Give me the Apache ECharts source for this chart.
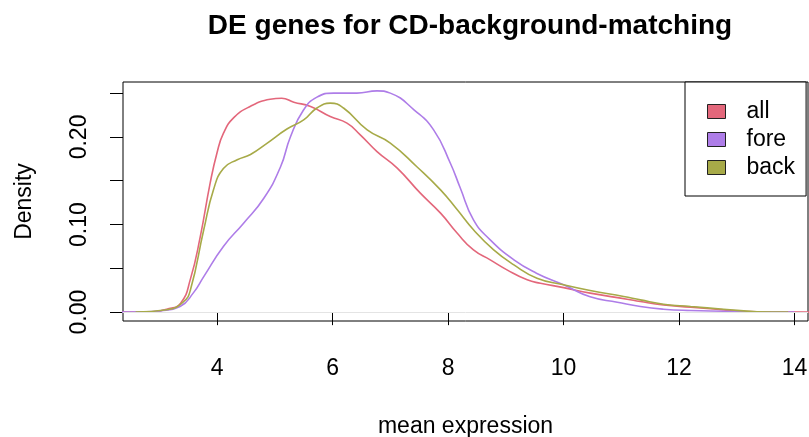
<!DOCTYPE html>
<html>
<head>
<meta charset="utf-8">
<script src="https://cdn.jsdelivr.net/npm/echarts@6/dist/echarts.min.js"></script>
<style>
  html, body { margin: 0; padding: 0; background: #fff; }
  #main { width: 809px; height: 437px; }
</style>
</head>
<body>
<div id="main"></div>
<script>
// density curves, as [mean expression, density]
const allCurve = [
  [2.3, 0], [2.8, 0.0003], [3.13, 0.0034], [3.37, 0.0103], [3.54, 0.038], [3.71, 0.0863],
  [3.88, 0.147], [4.0, 0.182], [4.11, 0.204], [4.29, 0.222], [4.58, 0.235], [4.92, 0.243],
  [5.12, 0.2442], [5.33, 0.2397], [5.62, 0.2347], [5.96, 0.2233], [6.25, 0.2157], [6.48, 0.2024],
  [6.77, 0.1833], [7.12, 0.1644], [7.52, 0.1358], [7.87, 0.113], [8.16, 0.09], [8.44, 0.071],
  [8.73, 0.0597], [9.02, 0.0483], [9.37, 0.0369], [9.6, 0.033], [10.0, 0.028], [10.46, 0.0217],
  [11.1, 0.0148], [11.33, 0.0121], [11.73, 0.0083], [12.2, 0.0057], [12.77, 0.0026],
  [13.35, 0.0004], [14.4, 0]
];
const foreCurve = [
  [2.3, 0], [2.7, 0.0003], [3.02, 0.0015], [3.36, 0.0064], [3.59, 0.022], [3.77, 0.0406],
  [4.11, 0.075], [4.46, 0.1016], [4.81, 0.13], [5.1, 0.166], [5.27, 0.2], [5.5, 0.231],
  [5.73, 0.2454], [6.02, 0.25], [6.42, 0.25], [6.77, 0.2526], [7.0, 0.25], [7.41, 0.231],
  [7.75, 0.208], [8.04, 0.17], [8.21, 0.142], [8.44, 0.1054], [8.73, 0.0825], [9.14, 0.0597],
  [9.53, 0.0445], [10.0, 0.0312], [10.46, 0.0175], [10.93, 0.0114], [11.33, 0.0064],
  [11.73, 0.0034], [12.2, 0.0019], [12.77, 0.0011], [13.35, 0.0004], [14.0, 0]
];
const backCurve = [
  [2.59, 0], [3.13, 0.0027], [3.42, 0.012], [3.54, 0.0255], [3.77, 0.094], [3.94, 0.14],
  [4.11, 0.164], [4.35, 0.174], [4.58, 0.18], [4.87, 0.193], [5.21, 0.209], [5.5, 0.2195],
  [5.73, 0.233], [5.96, 0.2386], [6.19, 0.233], [6.6, 0.208], [7.0, 0.193], [7.46, 0.166],
  [7.87, 0.1396], [8.16, 0.1168], [8.44, 0.094], [8.79, 0.0711], [9.14, 0.054], [9.54, 0.0388],
  [10.0, 0.0312], [10.46, 0.0247], [11.04, 0.0178], [11.33, 0.014], [11.73, 0.0091],
  [12.2, 0.0064], [12.77, 0.0034], [13.35, 0.0005], [13.89, 0]
];
const seriesNames = ['all', 'fore', 'back'];
const seriesColors = ['#E3677B', '#AE7DE8', '#A7AA48'];
const xTicks = [4, 6, 8, 10, 12, 14];
const yTicks = [0, 0.05, 0.1, 0.15, 0.2, 0.25];
const yLabels = [0, 0.1, 0.2];

const chart = echarts.init(document.getElementById('main'));
const font = 'Liberation Sans, Arial, Helvetica, sans-serif';

const curves = [allCurve, foreCurve, backCurve];

const option = {
  animation: false,
  title: {
    text: 'DE genes for CD-background-matching',
    left: 465, top: 7, textAlign: 'center',
    textStyle: { fontFamily: font, fontSize: 28, fontWeight: 'bold', color: '#000' }
  },
  grid: {
    left: 123, top: 82, width: 685, height: 239,
    outerBoundsMode: 'none', containLabel: false,
    show: true, borderColor: '#000', borderWidth: 1, backgroundColor: 'transparent'
  },
  legend: {
    orient: 'vertical', left: 685, top: 82,
    data: seriesNames,
    icon: 'rect', itemWidth: 18, itemHeight: 14, itemGap: 5,
    padding: [18, 11, 17, 22],
    borderColor: '#000', borderWidth: 1, borderRadius: 0,
    backgroundColor: '#fff',
    itemStyle: { borderColor: '#222', borderWidth: 1 },
    textStyle: { fontFamily: font, fontSize: 23, lineHeight: 23, color: '#000', padding: [0, 0, 0, 16] }
  },
  xAxis: {
    type: 'value', min: 2.372, max: 14.232,
    name: 'mean expression', nameLocation: 'middle', nameGap: 94,
    nameTextStyle: { fontFamily: font, fontSize: 23, color: '#000' },
    axisLine: { show: false },
    axisTick: { show: true, length: 13, customValues: xTicks, lineStyle: { color: '#000', width: 1 } },
    axisLabel: { customValues: xTicks, margin: 36, fontFamily: font, fontSize: 23, color: '#000' },
    splitLine: { show: false }
  },
  yAxis: {
    type: 'value', min: -0.0101, max: 0.2627,
    name: 'Density', nameLocation: 'middle', nameGap: 87,
    nameTextStyle: { fontFamily: font, fontSize: 23, color: '#000' },
    axisLine: { show: false },
    axisTick: { show: true, length: 13, customValues: yTicks, lineStyle: { color: '#000', width: 1 } },
    axisLabel: {
      customValues: yLabels, rotate: 90, margin: 32,
      fontFamily: font, fontSize: 23, color: '#000',
      formatter: v => v.toFixed(2)
    },
    splitLine: { show: false }
  },
  series: seriesNames.map((name, i) => ({
    name: name,
    type: 'line',
    data: curves[i],
    smooth: 0.5,
    showSymbol: false,
    clip: true,
    color: seriesColors[i],
    lineStyle: { color: seriesColors[i], width: 1.6 },
    markLine: i === 0 ? {
      silent: true, symbol: 'none', label: { show: false },
      lineStyle: { color: '#e4e4e4', width: 1, type: 'solid' },
      data: [{ yAxis: 0 }]
    } : undefined
  }))
};

chart.setOption(option);
</script>
</body>
</html>
